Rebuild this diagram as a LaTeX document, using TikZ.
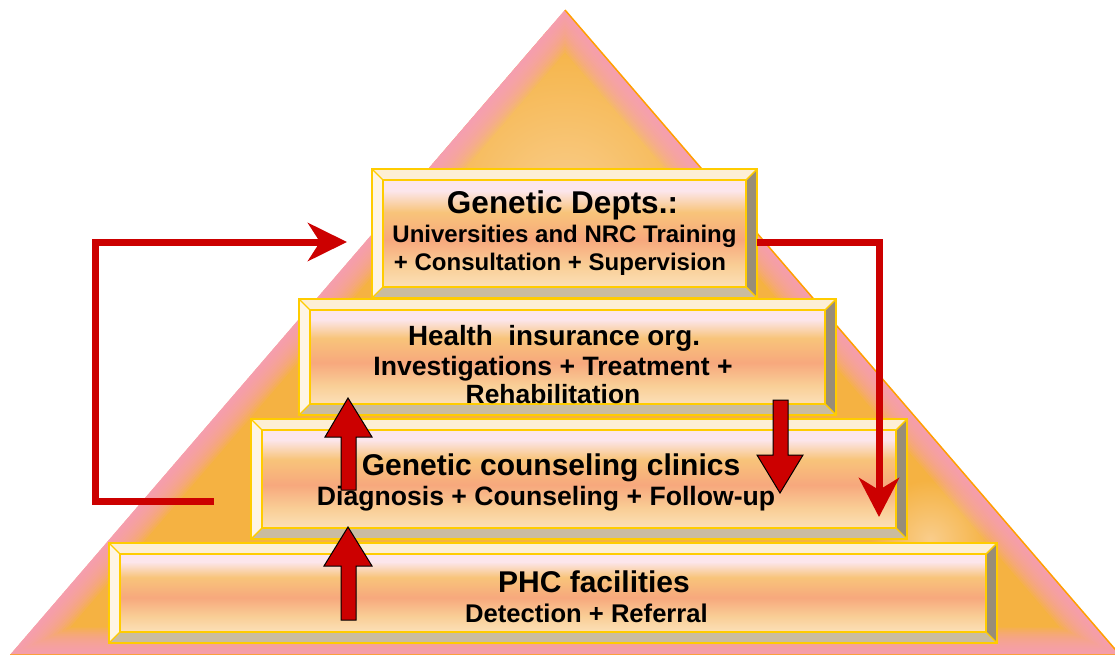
\documentclass[tikz,border=0pt]{standalone}
\usepackage{fontspec}
\setmainfont{Liberation Sans}
\usetikzlibrary{arrows.meta}
\definecolor{redc}{RGB}{204,0,0}
\definecolor{gold}{RGB}{255,204,0}
\definecolor{triedge}{RGB}{255,160,0}
\definecolor{triorange}{RGB}{245,178,66}
\definecolor{trilight}{RGB}{249,205,140}
\definecolor{tripink}{RGB}{245,158,195}
\definecolor{bvlight}{RGB}{253,239,212}
\definecolor{bvlight2}{RGB}{254,245,228}
\definecolor{bvdark}{RGB}{152,141,120}
\definecolor{bvbottom}{RGB}{202,188,160}
\definecolor{fpink}{RGB}{252,230,236}
\definecolor{fgold}{RGB}{248,196,122}
\definecolor{fsalmon}{RGB}{247,168,125}
\definecolor{fgold2}{RGB}{249,206,150}
\definecolor{fpeach}{RGB}{252,224,184}
\pgfdeclareverticalshading{btnface}{100bp}{color(0bp)=(fpeach); color(25bp)=(fpeach); color(35bp)=(fgold2); color(47bp)=(fsalmon); color(60bp)=(fgold); color(70bp)=(fpink); color(100bp)=(fpink)}
\newcommand\bvw{11}
\newcommand\bevbox[5]{%
  \fill[bvlight] (#2,#3) -- (#4,#3) -- ({#4-\bvw},{#3+\bvw}) -- ({#2+\bvw},{#3+\bvw}) -- cycle;
  \fill[bvlight2] (#2,#3) -- ({#2+\bvw},{#3+\bvw}) -- ({#2+\bvw},{#5-\bvw}) -- (#2,#5) -- cycle;
  \fill[bvdark] (#4,#3) -- (#4,#5) -- ({#4-\bvw},{#5-\bvw}) -- ({#4-\bvw},{#3+\bvw}) -- cycle;
  \fill[bvbottom] (#2,#5) -- (#4,#5) -- ({#4-\bvw},{#5-\bvw}) -- ({#2+\bvw},{#5-\bvw}) -- cycle;
  \shade[shading=btnface] ({#2+\bvw},{#3+\bvw}) rectangle ({#4-\bvw},{#5-\bvw});
  \draw[boxline] ({#2+\bvw},{#3+\bvw}) rectangle ({#4-\bvw},{#5-\bvw});
  \draw[boxline] (#2,#3) -- ({#2+\bvw},{#3+\bvw}) (#4,#3) -- ({#4-\bvw},{#3+\bvw})
     (#2,#5) -- ({#2+\bvw},{#5-\bvw}) (#4,#5) -- ({#4-\bvw},{#5-\bvw});
  \node[draw=gold, line width=1.6pt, inner sep=0pt, minimum width={#4-#2}, minimum height={#5-#3}] (#1) at ({(#2+#4)/2},{(#3+#5)/2}) {};
}
\tikzset{
  boxline/.style={draw=gold, line width=1.4pt},
  blockarrow/.style={fill=redc, draw=black, line width=1pt, line join=miter},
  conn/.style={draw=redc, line width=7pt, line join=miter},
  txt/.style={anchor=base, inner sep=0pt, text=black},
}
\begin{document}
\begin{tikzpicture}[x=1pt,y=-1pt]
\useasboundingbox (0,0) rectangle (1115,655);
% pyramid
\begin{scope}
  \clip (0,0) rectangle (1115,655);
  \path[clip] (565,10) -- (1120,655) -- (10,655) -- cycle;
  \fill[triorange] (565,10) -- (1120,655) -- (10,655) -- cycle;
  \shade[inner color=trilight, outer color=triorange] (565,200) circle (170);
  \shade[inner color=trilight, outer color=triorange] (930,540) circle (60);
  \foreach \w in {3,7,...,55} {
    \draw[tripink, opacity=0.13, line width=\w pt, line join=round] (565,10) -- (1120,655) -- (10,655) -- cycle;
  }
\end{scope}
\draw[triedge, line width=1.5pt, line join=miter] (565,10) -- (1120,655) -- (10,655);
% boxes
\bevbox{b4}{109}{543}{997}{643}
\bevbox{b3}{251}{419}{907}{539}
\bevbox{b2}{299}{299}{836}{415}
\bevbox{b1}{372}{169}{757}{298}
% texts
\node[txt, font=\fontsize{31.5}{36}\selectfont\bfseries] (t1a) at (562.5,213) {Genetic Depts.:};
\node[txt, font=\fontsize{24}{28}\selectfont\bfseries] (t1b) at (564.5,242) {Universities and NRC Training};
\node[txt, font=\fontsize{24}{28}\selectfont\bfseries] (t1c) at (560,270) {+ Consultation + Supervision};
\node[txt, font=\fontsize{27.8}{32}\selectfont\bfseries] (t2a) at (554,345) {Health\ \ insurance org.};
\node[txt, font=\fontsize{26.6}{30}\selectfont\bfseries] (t2b) at (553,375) {Investigations + Treatment +};
\node[txt, font=\fontsize{26.4}{30}\selectfont\bfseries] (t2c) at (553,403) {Rehabilitation};
\node[txt, font=\fontsize{30}{34}\selectfont\bfseries] (t3a) at (551,475) {Genetic counseling clinics};
\node[txt, font=\fontsize{26.6}{30}\selectfont\bfseries] (t3b) at (546,505) {Diagnosis + Counseling + Follow-up};
\node[txt, font=\fontsize{30}{34}\selectfont\bfseries] (t4a) at (594,592) {PHC facilities};
\node[txt, font=\fontsize{25.6}{30}\selectfont\bfseries] (t4b) at (586.5,622) {Detection + Referral};
% block arrows
\draw[blockarrow] (341,490) -- (341,437) -- (325,437) -- (348,398) -- (372,437) -- (356,437) -- (356,490) -- cycle;
\draw[blockarrow] (341,620) -- (341,566) -- (324,566) -- (348,527) -- (372,566) -- (356,566) -- (356,620) -- cycle;
\draw[blockarrow] (773,400) -- (773,455) -- (757,455) -- (780,493) -- (803,455) -- (788,455) -- (788,400) -- cycle;
% loop connectors
\coordinate (lstart) at (214,501);
\coordinate (lc1) at (95,501);
\coordinate (lc2) at (95,242);
\coordinate (lend) at (347,242);
\draw[conn, -{Stealth[length=39pt,width=38pt,inset=12pt]}] (lstart) -- (lc1) -- (lc2) -- (lend);
\coordinate (rstart) at (757,242);
\coordinate (rc1) at (879,242);
\coordinate (rend) at (879,517);
\draw[conn, -{Stealth[length=39pt,width=40pt,inset=12pt]}] (rstart) -- (rc1) -- (rend);
\end{tikzpicture}
\end{document}
